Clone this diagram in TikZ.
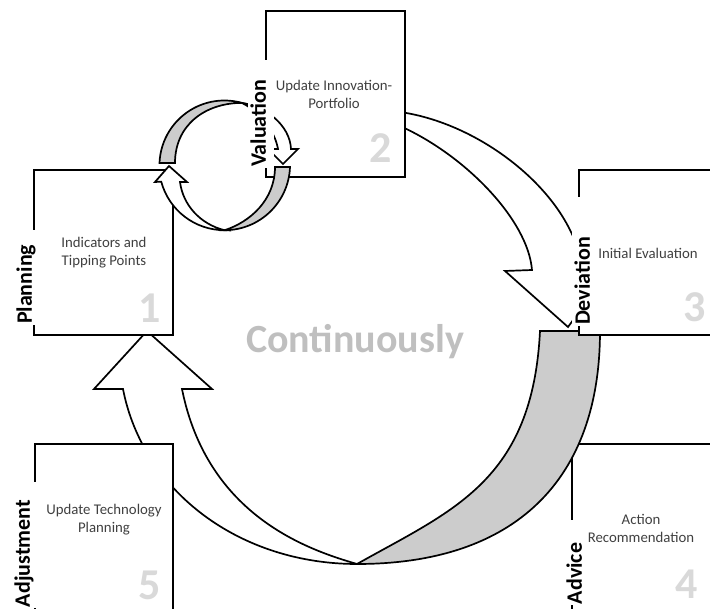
\documentclass[tikz,border=0pt]{standalone}
\usepackage{fontspec}
\setmainfont{Carlito}
\definecolor{bandgray}{RGB}{204,204,204}
\definecolor{numgray}{RGB}{217,217,217}
\definecolor{contgray}{RGB}{191,191,191}
\definecolor{txtgray}{RGB}{64,64,64}
\begin{document}
\begin{tikzpicture}[x=1pt,y=-1pt,
  box/.style={draw=black, fill=white, line width=2pt, inner sep=0},
  arr/.style={draw=black, fill=white, line width=1.7pt, line join=miter},
  band/.style={draw=black, fill=bandgray, line width=1.7pt},
  lab/.style={rotate=90, fill=white, inner sep=1pt, align=left, font=\bfseries\fontsize{22}{24}\selectfont},
  txt/.style={align=center, text=txtgray, font=\fontsize{14.8}{18}\selectfont, inner sep=0},
  num/.style={text=numgray, font=\bfseries\fontsize{44}{44}\selectfont, inner sep=0, anchor=base}
]
\useasboundingbox (0,0) rectangle (710,609);
\clip (0,0) rectangle (710,609);

% arrow from 2 to 3
\path[arr] (400,112) .. controls (485,124) and (575,198) .. (582,270) -- (610,270) -- (568,327)
  -- (505,271) -- (532,270) .. controls (528,220) and (465,155) .. (400,126) -- cycle;

% box 4
\node[box, minimum width=218pt, minimum height=256pt] (b4) at (681,572) {};

% big cycle
\path[band] (540,331) -- (600,331) .. controls (600,480) and (515,564) .. (357,564)
  .. controls (452.7,510.1) and (532.5,481) .. (540,331) -- cycle;
\path[arr] (147,331) -- (212,389) -- (182,389) .. controls (207.5,516.4) and (309,550) .. (357,564)
  .. controls (240,564) and (143,492) .. (123,389) -- (94,389) -- cycle;

% boxes
\node[box, minimum width=139pt, minimum height=165pt] (b1) at (103.5,252.5) {};
\node[box, minimum width=139pt, minimum height=166pt] (b2) at (335.5,94) {};
\node[box, minimum width=211pt, minimum height=165pt] (b3) at (684.5,252.5) {};
\node[box, minimum width=138pt, minimum height=256pt] (b5) at (104,572) {};

% small cycle
\path[band] (159.5,163) arc[start angle=182.2, end angle=285.6, radius=65]
  .. controls (205,103) and (175,125) .. (175,163) -- cycle;
\path[arr] (242,103) .. controls (265,106) and (290,125) .. (291,149) -- (298,149) -- (283,164)
  -- (268,149) -- (278,149) .. controls (275,132) and (262,113) .. (242,103) -- cycle;
\path[band] (275,167) -- (290,167) arc[start angle=2, end angle=90, radius=65.5]
  .. controls (250,222) and (275,200) .. (275,167) -- cycle;
\path[arr] (169,166) -- (187,182) -- (180,182) .. controls (183,205) and (200,224) .. (224.5,230.2)
  arc[start angle=90, end angle=165, radius=65.5] -- (155,182) -- cycle;

% labels
\node[lab, text width=93pt] (lplan) at (27,277.5) {\strut Planning};
\node[lab, text width=106pt] (lval) at (261,114) {\strut Valuation};
\node[lab, text width=127pt] (ldev) at (585,261.5) {\strut Deviation};
\node[lab, text width=124pt] (ladj) at (25,545) {\strut Adjustment};
\node[lab, text width=83pt] (ladv) at (577,562.5) {\strut Advice};

% texts
\node[txt] (t1) at (104,253) {Indicators and\\Tipping Points};
\node[txt] (t2) at (334,94) {Update Innovation-\\Portfolio};
\node[txt] (t3) at (648,253) {Initial Evaluation};
\node[txt] (t4) at (641,528) {Action\\Recommendation};
\node[txt] (t5) at (104,520) {Update Technology\\Planning};

\node[num] (n1) at (150,323) {1};
\node[num] (n2) at (381,163) {2};
\node[num] (n3) at (695,322) {3};
\node[num] (n4) at (687,598) {4};
\node[num] (n5) at (150,599) {5};

\node[font=\bfseries\fontsize{40}{40}\selectfont, text=contgray, anchor=base, inner sep=0] (cont) at (355,353) {Continuously};
\end{tikzpicture}
\end{document}
